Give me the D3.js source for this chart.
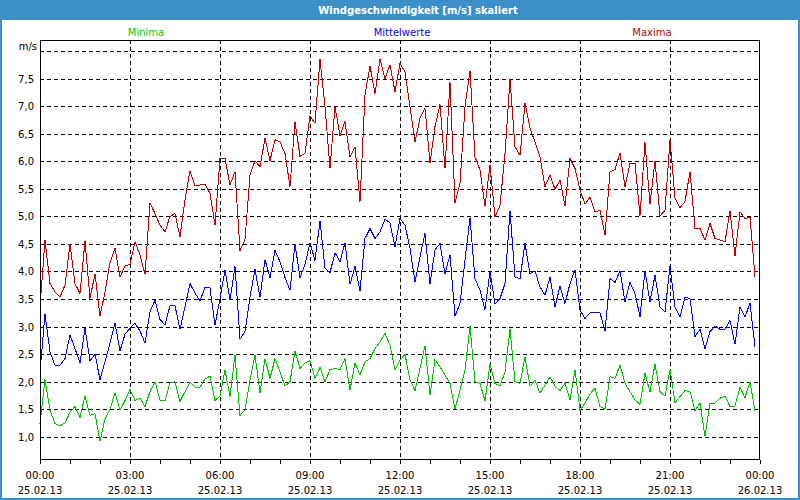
<!DOCTYPE html>
<html><head><meta charset="utf-8">
<script src="https://cdn.jsdelivr.net/npm/d3@7"></script>
<style>
html,body{margin:0;padding:0;background:#fff;}
svg{display:block;}
text{font-family:"DejaVu Sans",Verdana,sans-serif;}
</style></head>
<body>
<svg id="chart" width="800" height="500"></svg>
<script>
const title = "Windgeschwindigkeit [m/s] skaliert";
const seriesNames = ["Minima", "Mittelwerte", "Maxima"];
const yUnit = "m/s";
const startTime = "2013-02-25T00:00:00";
const endTime = "2013-02-26T00:00:00";
const stepMinutes = 10;
const yTicks = [1.0, 1.5, 2.0, 2.5, 3.0, 3.5, 4.0, 4.5, 5.0, 5.5, 6.0, 6.5, 7.0, 7.5];
const yGrid = [1.0, 1.5, 2.0, 2.5, 3.0, 3.5, 4.0, 4.5, 5.0, 5.5, 6.0, 6.5, 7.0, 7.5, 8.0];
const xTimeLabels = ["00:00","03:00","06:00","09:00","12:00","15:00","18:00","21:00","00:00"];
const xDateLabels = ["25.02.13","25.02.13","25.02.13","25.02.13","25.02.13","25.02.13","25.02.13","25.02.13","26.02.13"];

const minima = [
1.24,2.04,1.48,1.24,1.2,1.25,1.45,1.55,1.35,1.74,
1.39,1.42,0.92,1.33,1.5,1.8,1.48,1.66,1.86,1.66,
1.7,1.55,1.82,2.0,1.67,1.65,1.98,2.0,1.64,1.82,
2.0,1.9,1.9,2.05,2.1,1.66,1.74,2.21,1.73,2.48,
1.39,1.49,2.03,2.48,1.8,2.42,2.06,2.42,2.18,1.92,
2.0,2.56,2.24,2.34,2.38,2.06,2.26,2.0,2.22,2.24,
2.22,2.42,1.85,2.34,2.12,2.36,2.42,2.6,2.72,2.88,
2.66,2.21,2.39,2.5,2.03,1.84,2.24,2.65,1.76,2.4,
2.27,2.12,1.97,1.5,1.85,2.21,3.01,2.0,1.97,1.65,
2.32,1.97,1.92,2.18,2.95,2.0,1.97,2.45,1.92,2.03,
1.79,1.94,2.09,1.92,1.84,1.97,1.67,2.22,1.48,1.61,
1.78,1.88,1.55,1.5,2.09,2.06,2.3,1.97,1.82,1.67,
1.59,2.15,1.82,2.32,1.82,1.74,2.22,1.62,1.73,1.84,
1.82,1.48,1.61,1.01,1.61,1.61,1.7,1.74,1.55,1.56,
1.9,1.71,2.0,1.47];

const mittelwerte = [
2.18,3.23,2.54,2.3,2.3,2.42,2.85,2.6,2.34,2.97,
2.38,2.5,2.04,2.36,2.7,3.06,2.56,2.86,2.97,3.06,
2.92,2.7,3.27,3.48,3.13,3.03,3.38,3.38,2.95,3.36,
3.78,3.61,3.46,3.72,3.7,3.03,3.5,4.03,3.48,4.09,
2.77,2.91,3.54,4.04,3.53,4.21,3.89,4.38,4.18,3.89,
3.66,4.5,3.89,4.13,4.52,4.2,4.92,4.06,3.98,4.34,
4.18,4.52,3.77,4.09,3.65,4.6,4.78,4.6,4.72,4.95,
4.88,4.45,4.96,4.84,4.42,3.81,4.27,4.69,3.78,4.39,
4.51,3.96,4.3,3.19,3.42,4.21,4.97,3.87,3.66,3.31,
3.99,3.41,3.51,3.78,5.1,3.9,3.87,4.51,3.96,4.01,
3.72,3.57,3.9,3.36,3.73,3.42,3.78,4.03,3.3,3.15,
3.25,3.25,3.25,2.92,3.87,3.8,4.01,3.45,3.8,3.6,
3.18,4.01,3.45,3.93,3.36,3.27,4.09,3.36,3.17,3.53,
3.51,2.82,2.95,2.6,2.91,3.01,2.95,2.95,3.11,2.68,
3.36,3.17,3.43,2.63];

const maxima = [
3.36,4.57,3.78,3.63,3.54,3.75,4.5,3.78,3.6,4.55,
3.51,3.96,3.19,3.63,4.16,4.42,3.9,4.1,4.13,4.54,
4.3,3.95,5.24,5.05,4.84,4.72,5.0,5.05,4.63,5.3,
5.83,5.55,5.57,5.58,5.42,4.84,6.05,6.05,5.57,5.81,
4.38,4.58,5.75,6.01,5.9,6.42,6.01,6.39,6.35,6.14,
5.54,6.72,6.09,6.14,6.82,6.69,7.85,6.99,5.87,6.99,
6.46,6.72,6.08,6.26,5.27,7.2,7.73,7.23,7.85,7.5,
7.75,7.26,7.78,7.62,6.99,6.35,6.78,6.96,5.97,6.63,
7.03,5.87,7.43,5.24,5.6,6.99,7.64,6.08,5.84,5.19,
5.93,4.99,5.2,6.14,7.49,6.26,6.11,7.05,6.6,6.35,
6.08,5.54,5.75,5.49,5.66,5.19,6.05,5.87,5.48,5.22,
5.35,5.08,5.11,4.66,5.81,5.85,6.15,5.54,5.96,5.96,
5.01,6.34,5.22,6.01,5.01,5.11,6.39,5.33,5.16,5.27,
5.81,4.78,4.78,4.57,4.87,4.6,4.57,4.54,5.1,4.28,
5.08,4.96,4.99,3.9];

const colors = {Minima:"#00c000", Mittelwerte:"#0000ff", Maxima:"#c00000"};
const legendColors = {Minima:"#00cc00", Mittelwerte:"#0000ff", Maxima:"#c00000"};

const W = 800, H = 500;
const svg = d3.select("#chart");

// window frame + title bar
const frameBlue = "#3c8fc7";
svg.append("rect").attr("x",0).attr("y",0).attr("width",W).attr("height",H).attr("fill","#fff");
svg.append("rect").attr("x",0).attr("y",0).attr("width",W).attr("height",20).attr("fill",frameBlue);
svg.append("rect").attr("x",1).attr("y",1).attr("width",W-2).attr("height",H-2)
  .attr("fill","none").attr("stroke",frameBlue).attr("stroke-width",2);
svg.append("text").attr("x",418).attr("y",14).attr("text-anchor","middle")
  .attr("fill","#fff").attr("font-weight","bold").attr("font-size","10px").text(title);

const parse = d3.isoParse;
const t0 = parse(startTime), t1 = parse(endTime);
const x = d3.scaleTime().domain([t0, t1]).range([40, 760]);
const y = d3.scaleLinear().domain([0.58, 8.2]).range([460, 40]);
const px = v => Math.round(v) + 0.5;

const timeAt = i => new Date(t0.getTime() + i * stepMinutes * 60000);

// horizontal grid
const g = svg.append("g");
g.selectAll("line.hg").data(yGrid).enter().append("line")
  .attr("x1",40).attr("x2",760)
  .attr("y1",d=>px(y(d))).attr("y2",d=>px(y(d)))
  .attr("stroke","#000").attr("stroke-dasharray","4,3").attr("shape-rendering","crispEdges");
// vertical grid every 3 hours
const majorTicks = d3.timeHour.every(3).range(t0, d3.timeMinute.offset(t1,1));
g.selectAll("line.vg").data(majorTicks.slice(1, -1)).enter().append("line")
  .attr("x1",d=>px(x(d))).attr("x2",d=>px(x(d)))
  .attr("y1",40).attr("y2",460)
  .attr("stroke","#000").attr("stroke-dasharray","4,3").attr("shape-rendering","crispEdges");

// series lines
const line = d3.line().x((d,i)=>x(timeAt(i))).y(d=>y(d));
const seriesData = {Minima:minima, Mittelwerte:mittelwerte, Maxima:maxima};
["Maxima","Mittelwerte","Minima"].forEach(name=>{
  svg.append("path").datum(seriesData[name]).attr("d",line)
    .attr("fill","none").attr("stroke",colors[name]).attr("stroke-width",1)
    .attr("shape-rendering","crispEdges");
});

// plot border
svg.append("rect").attr("x",40.5).attr("y",40.5).attr("width",719).attr("height",419)
  .attr("fill","none").attr("stroke","#000").attr("shape-rendering","crispEdges");

// x axis with hourly ticks
const xAxis = d3.axisBottom(x).ticks(d3.timeHour.every(1)).tickSize(4).tickFormat("");
const ax = svg.append("g").attr("transform","translate(0,460)").call(xAxis);
ax.select(".domain").remove();
ax.selectAll("line").attr("stroke","#000").attr("shape-rendering","crispEdges");

// x labels
svg.selectAll("text.xt").data(majorTicks).enter().append("text")
  .attr("x",d=>x(d)).attr("y",479).attr("text-anchor","middle")
  .attr("font-size","10px").attr("fill","#000").text((d,i)=>xTimeLabels[i]);
svg.selectAll("text.xd").data(majorTicks).enter().append("text")
  .attr("x",d=>x(d)).attr("y",494).attr("text-anchor","middle")
  .attr("font-size","10px").attr("fill","#000").text((d,i)=>xDateLabels[i]);

// y labels
const fmt = d3.formatLocale({decimal:",", thousands:".", grouping:[3], currency:["","€"]}).format(".1f");
svg.selectAll("text.yt").data(yTicks).enter().append("text")
  .attr("x",34).attr("y",d=>y(d)+4).attr("text-anchor","end")
  .attr("font-size","10px").attr("fill","#000").text(d=>fmt(d));
svg.append("text").attr("x",37).attr("y",50).attr("text-anchor","end")
  .attr("font-size","10px").attr("fill","#000").text(yUnit);

// legend
const legendX = {Minima:146, Mittelwerte:402, Maxima:652};
seriesNames.forEach(n=>{
  svg.append("text").attr("x",legendX[n]).attr("y",36).attr("text-anchor","middle")
    .attr("font-size","10px").attr("fill",legendColors[n]).text(n);
});
</script>
</body></html>
